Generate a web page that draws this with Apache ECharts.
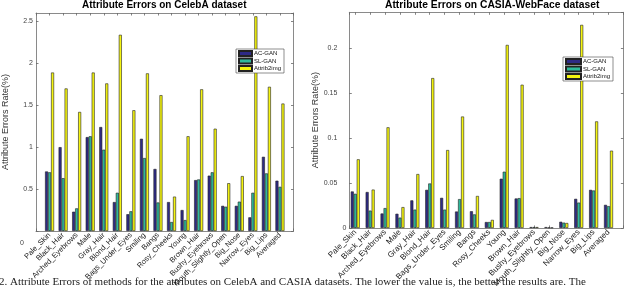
<!DOCTYPE html>
<html>
<head>
<meta charset="utf-8">
<script src="https://cdn.jsdelivr.net/npm/echarts@6/dist/echarts.min.js"></script>
<style>
html,body{margin:0;padding:0;background:#fff;}
#c{width:640px;height:290px;}
</style>
</head>
<body>
<div id="c"></div>
<script>
const categories = ['Pale_Skin','Black_Hair','Arched_Eyebrows','Male','Gray_Hair','Blond_Hair','Bags_Under_Eyes','Smiling','Bangs','Rosy_Cheeks','Young','Brown_Hair','Bushy_Eyebrows','Mouth_Slightly_Open','Big_Nose','Narrow_Eyes','Big_Lips','Averaged'];
const seriesNames = ['AC-GAN','SL-GAN','Attrib2img'];

const celebaAC  = [0.71,1.00,0.23,1.12,1.24,0.345,0.20,1.10,0.74,0.345,0.25,0.607,0.66,0.30,0.30,0.163,0.885,0.60];
const celebaSL  = [0.70,0.63,0.27,1.13,0.97,0.456,0.235,0.87,0.34,0.107,0.13,0.615,0.70,0.29,0.35,0.456,0.687,0.527];
const celebaA2I = [1.89,1.70,1.42,1.89,1.76,2.34,1.44,1.88,1.62,0.41,1.13,1.69,1.22,0.57,0.655,2.56,1.72,1.52];

const casiaAC  = [0.0406,0.040,0.0161,0.0158,0.0307,0.0424,0.0335,0.0183,0.0186,0.0066,0.0548,0.0328,0.001,0.001,0.0069,0.0324,0.0424,0.0257];
const casiaSL  = [0.038,0.0193,0.0221,0.0115,0.0204,0.0495,0.0204,0.0321,0.0151,0.0066,0.0626,0.0332,0.001,0.0005,0.0059,0.0282,0.0417,0.0243];
const casiaA2I = [0.0764,0.0427,0.112,0.0232,0.060,0.1668,0.0867,0.124,0.0356,0.009,0.2037,0.1594,0.001,0.0005,0.0055,0.226,0.1186,0.086];

const titles = ['Attribute Errors on CelebA dataset','Attribute Errors on CASIA-WebFace dataset'];
const yName = 'Attribute Errors Rate(%)';
const caption = '2. Attribute Errors of methods for the attributes on CelebA and CASIA datasets. The lower the value is, the better the results are. The';

const colors = ['#2e2a86','#2fb99c','#f5f510'];
const FONT = '"Liberation Sans", Arial, sans-serif';

function toPts(arr){ return arr.map((v,i)=>[i+1, v]); }

const chart = echarts.init(document.getElementById('c'), null, {renderer:'canvas'});

const boxLine = {show:true, onZero:false, lineStyle:{color:'#8a8a8a', width:1}};
const tickIn = {show:true, inside:true, length:2.5, lineStyle:{color:'#666', width:0.8}};

function xAxes(grid, min, fs){
  const base = {
    type:'value', gridIndex:grid, min:min, max:19,
    minInterval:1, maxInterval:1, splitNumber:19,
    splitLine:{show:false}, axisLine:boxLine, axisTick:tickIn
  };
  return [
    Object.assign({}, base, {
      position:'bottom',
      axisLabel:{
        show:true, rotate:45, fontSize:fs, margin:3, color:'#1a1a1a', fontFamily:FONT,
        showMinLabel:true, showMaxLabel:true, hideOverlap:false,
        formatter:(v)=>{ const k=Math.round(v); return (Math.abs(v-k)<1e-6 && categories[k-1]) ? categories[k-1] : ''; }
      }
    }),
    Object.assign({}, base, {position:'top', axisLabel:{show:false}})
  ];
}

function yAxes(grid, max, interval, labelCfg, nameGap){
  const base = {
    type:'value', gridIndex:grid, min:0, max:max, interval:interval,
    splitLine:{show:false}, axisLine:boxLine, axisTick:tickIn
  };
  return [
    Object.assign({}, base, {
      position:'left', name:yName, nameLocation:'middle', nameRotate:90, nameGap:nameGap,
      nameTextStyle:{fontSize:9, color:'#333', fontFamily:FONT},
      axisLabel:Object.assign({fontSize:7, color:'#444', fontFamily:FONT, showMaxLabel:false}, labelCfg)
    }),
    Object.assign({}, base, {position:'right', axisLabel:{show:false}})
  ];
}

const leftLabel = {
  margin:3,
  formatter:(v)=> v===0 ? '{z|0}' : String(v),
  rich:{ z:{ padding:[24,9,0,0], fontSize:7, color:'#444', fontFamily:FONT } }
};
const rightLabel = {
  margin:3,
  formatter:(v)=> v===0 ? '0' : '{a|'+v+'}',
  rich:{ a:{ padding:[0,9,0,0], fontSize:7, color:'#444', fontFamily:FONT } }
};

function barSeries(name, data, xi, yi, ci){
  return {
    name:name, type:'bar', xAxisIndex:xi, yAxisIndex:yi,
    data:toPts(data), barWidth:3, barGap:'0%',
    itemStyle:{color:colors[ci], borderColor:'#222', borderWidth:0.6},
    emphasis:{disabled:true}, animation:false
  };
}

function legendCfg(left, top, iw){
  return {
    orient:'vertical', left:left, top:top, icon:'rect',
    itemWidth:iw, itemHeight:5, itemGap:0.5,
    padding:[1,3,1,2], borderColor:'#444', borderWidth:0.6, backgroundColor:'#fff',
    textStyle:{fontSize:6, color:'#111', fontFamily:FONT, padding:[0,0,0,-3]},
    data:seriesNames, selectedMode:false
  };
}

const option = {
  animation:false,
  backgroundColor:'#fff',
  title:[
    {text:titles[0], left:82, top:0, padding:[0,0,0,0], textStyle:{fontSize:10, fontWeight:'bold', color:'#000', fontFamily:FONT}},
    {text:titles[1], left:385, top:0, padding:[0,0,0,0], textStyle:{fontSize:10.3, fontWeight:'bold', color:'#000', fontFamily:FONT}}
  ],
  grid:[
    {left:34.5, right:640-293.5, top:13, bottom:59, containLabel:false},
    {left:349.3, right:640-623.4, top:12.3, bottom:52.5, containLabel:false}
  ],
  legend:[ legendCfg(236, 49, 13), legendCfg(563, 57, 15) ],
  xAxis:[].concat(xAxes(0, 0, 7.5), xAxes(1, 0.6, 8)),
  yAxis:[].concat(yAxes(0, 2.6, 0.5, leftLabel, 26), yAxes(1, 0.24, 0.05, rightLabel, 26)),
  series:[
    barSeries(seriesNames[0], celebaAC, 0, 0, 0),
    barSeries(seriesNames[1], celebaSL, 0, 0, 1),
    barSeries(seriesNames[2], celebaA2I, 0, 0, 2),
    barSeries(seriesNames[0], casiaAC, 2, 2, 0),
    barSeries(seriesNames[1], casiaSL, 2, 2, 1),
    barSeries(seriesNames[2], casiaA2I, 2, 2, 2)
  ],
  graphic:[
    {type:'text', left:-1, top:277, style:{text:caption, font:'11px "Liberation Serif", serif', fill:'#222'}}
  ]
};
chart.setOption(option);
</script>
</body>
</html>
